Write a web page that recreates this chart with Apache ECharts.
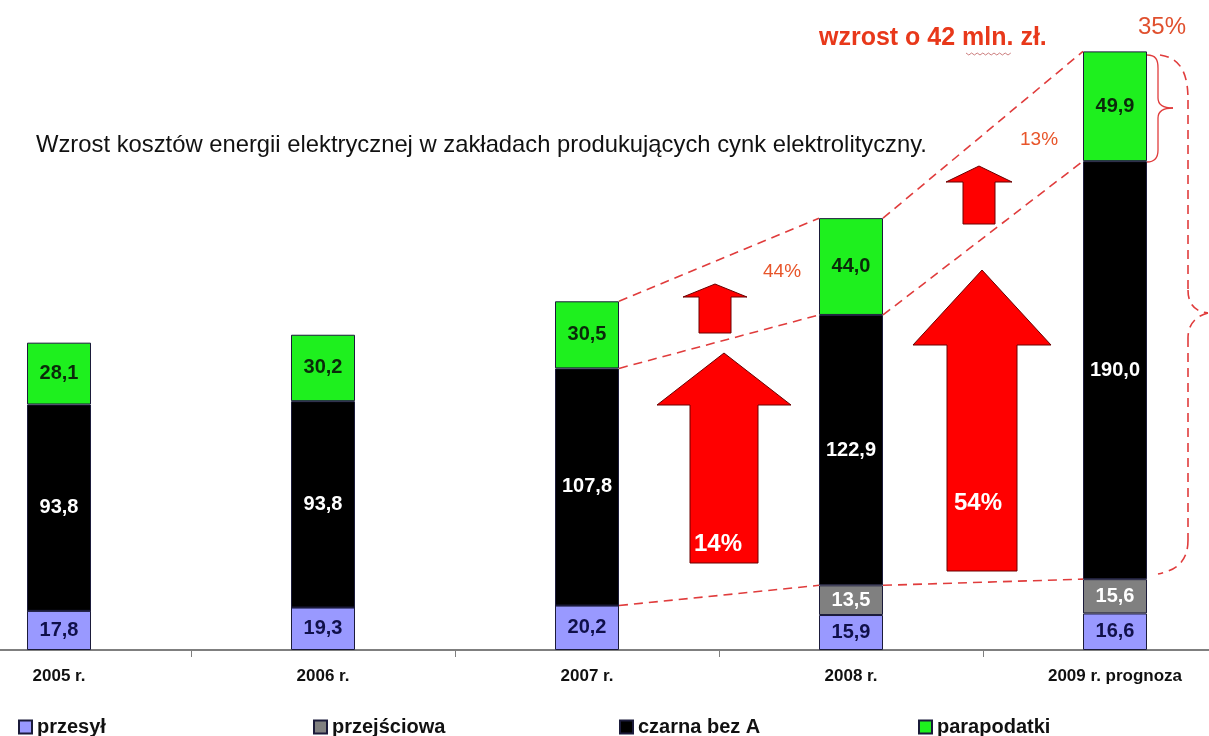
<!DOCTYPE html>
<html>
<head>
<meta charset="utf-8">
<script src="https://cdn.jsdelivr.net/npm/echarts@6/dist/echarts.min.js"></script>
<style>
  html, body { margin: 0; padding: 0; background: #fff; }
  #chart { width: 1209px; height: 736px; }
</style>
</head>
<body>
<div id="chart"></div>
<script>
const categories = ["2005 r.", "2006 r.", "2007 r.", "2008 r.", "2009 r. prognoza"];
const przesyl = [17.8, 19.3, 20.2, 15.9, 16.6];
const przejsciowa = [0, 0, 0, 13.5, 15.6];
const czarna = [93.8, 93.8, 107.8, 122.9, 190.0];
const parapodatki = [28.1, 30.2, 30.5, 44.0, 49.9];

const FONT = "'Liberation Sans', Arial, sans-serif";
const RED = "#e8381a";
const DASH = "#e03c3c";
const BAR_W = 64;

function fmt(p) {
  if (!p.value) return "";
  return Number(p.value).toFixed(1).replace(".", ",");
}

function barSeries(name, data, color, labelColor) {
  return {
    name: name,
    type: "bar",
    stack: "total",
    barWidth: BAR_W,
    data: data,
    itemStyle: { color: color, borderColor: "#1b1b3a", borderWidth: 1 },
    label: {
      show: true,
      position: "inside",
      formatter: fmt,
      color: labelColor,
      fontFamily: FONT,
      fontWeight: "bold",
      fontSize: 20
    }
  };
}

function legendAt(name, left) {
  return {
    data: [name],
    left: left,
    top: 712,
    icon: "rect",
    itemWidth: 13,
    itemHeight: 13,
    itemGap: 6,
    textStyle: { fontFamily: FONT, fontWeight: "bold", fontSize: 20, color: "#111" }
  };
}

const chart = echarts.init(document.getElementById("chart"));

const option = {
  animation: false,
  backgroundColor: "#fff",
  legend: [
    legendAt("przesył", 13),
    legendAt("przejściowa", 308),
    legendAt("czarna bez A", 614),
    legendAt("parapodatki", 913)
  ],
  grid: {
    left: -73,
    right: -38,
    top: 34,
    bottom: 86,
    outerBoundsMode: "none"
  },
  xAxis: {
    type: "category",
    data: categories,
    axisLine: { lineStyle: { color: "#7f7f7f", width: 2 } },
    axisTick: { show: true, length: 7, lineStyle: { color: "#7f7f7f" } },
    axisLabel: {
      margin: 18,
      fontFamily: FONT,
      fontWeight: "bold",
      fontSize: 17,
      color: "#111"
    }
  },
  yAxis: {
    type: "value",
    min: 0,
    max: 280,
    show: false
  },
  series: [
    barSeries("przesył", przesyl, "#9999ff", "#10104a"),
    barSeries("przejściowa", przejsciowa, "#808080", "#ffffff"),
    barSeries("czarna bez A", czarna, "#000000", "#ffffff"),
    barSeries("parapodatki", parapodatki, "#1ef01e", "#0a2a0a")
  ]
};

chart.setOption(option);

// stack tops for the dashed connectors
function tops(i) {
  const t1 = przesyl[i];
  const t2 = t1 + przejsciowa[i];
  const t3 = t2 + czarna[i];
  const t4 = t3 + parapodatki[i];
  return [t1, t2, t3, t4];
}
function px(i, v) {
  return chart.convertToPixel({ gridIndex: 0 }, [i, v]);
}
function connector(i, j, level) {
  const a = px(i, tops(i)[level]);
  const b = px(j, tops(j)[level]);
  return {
    type: "line",
    shape: { x1: a[0] + BAR_W / 2, y1: a[1], x2: b[0] - BAR_W / 2, y2: b[1] },
    style: { stroke: DASH, lineWidth: 1.6, lineDash: [9, 6] },
    z: 5
  };
}

function arrow(cx, tip, headY, headHalf, shaftHalf, bottom) {
  return {
    type: "polygon",
    shape: {
      points: [
        [cx, tip], [cx + headHalf, headY], [cx + shaftHalf, headY],
        [cx + shaftHalf, bottom], [cx - shaftHalf, bottom],
        [cx - shaftHalf, headY], [cx - headHalf, headY]
      ]
    },
    style: { fill: "#ff0000", stroke: "#6a0000", lineWidth: 1 },
    z: 4
  };
}

// brace drawn from lines (4 numbers) and cubic curves (8 numbers)
function brace(parts, style) {
  return parts.map(function (p) {
    if (p.length === 4) {
      return { type: "line", shape: { x1: p[0], y1: p[1], x2: p[2], y2: p[3] }, style: style, z: 5 };
    }
    return {
      type: "bezierCurve",
      shape: { x1: p[0], y1: p[1], cpx1: p[2], cpy1: p[3], cpx2: p[4], cpy2: p[5], x2: p[6], y2: p[7] },
      style: style,
      z: 5
    };
  });
}

function txt(x, y, text, font, fill, align) {
  return {
    type: "text",
    x: x,
    y: y,
    style: { text: text, font: font, fill: fill, align: align || "left", verticalAlign: "middle" },
    z: 10
  };
}

const squiggle = [];
for (let k = 0; k <= 16; k++) squiggle.push([966 + k * 2.8, 53 + (k % 2 ? 2 : 0)]);

const smallBrace = brace([
  [1147, 55, 1156, 55, 1158, 60, 1158, 68],
  [1158, 68, 1158, 98],
  [1158, 98, 1158, 104, 1162, 108, 1173, 108],
  [1173, 108, 1162, 108, 1158, 112, 1158, 118],
  [1158, 118, 1158, 150],
  [1158, 150, 1158, 158, 1155, 162, 1147, 162]
], { stroke: DASH, lineWidth: 1.3, fill: "none" });

const bigBrace = brace([
  [1160, 55, 1180, 58, 1188, 72, 1188, 100],
  [1188, 100, 1188, 290],
  [1188, 290, 1188, 305, 1196, 312, 1208, 313],
  [1208, 313, 1196, 316, 1188, 324, 1188, 338],
  [1188, 338, 1188, 540],
  [1188, 540, 1188, 560, 1178, 570, 1158, 574]
], { stroke: DASH, lineWidth: 1.6, lineDash: [9, 6], fill: "none" });

const graphics = [
  connector(2, 3, 3),
  connector(3, 4, 3),
  connector(2, 3, 2),
  connector(3, 4, 2),
  connector(2, 3, 1),
  connector(3, 4, 1),
  arrow(724, 353, 405, 67, 34, 563),
  arrow(715, 284, 297, 32, 16, 333),
  arrow(982, 270, 345, 69, 35, 571),
  arrow(979, 166, 182, 33, 16, 224)
].concat(smallBrace, bigBrace, [
  {
    type: "polyline",
    shape: { points: squiggle },
    style: { stroke: "#c06060", lineWidth: 0.8, fill: "none" },
    z: 10
  },
  txt(36, 145, "Wzrost kosztów energii elektrycznej w zakładach produkujących cynk elektrolityczny.", "23.8px " + FONT, "#111"),
  txt(819, 38, "wzrost o 42 mln. zł.", "bold 25px " + FONT, RED),
  txt(1138, 27, "35%", "24px " + FONT, "#e0502e"),
  txt(1020, 140, "13%", "19px " + FONT, "#e8552a"),
  txt(763, 272, "44%", "19px " + FONT, "#e8552a"),
  txt(718, 544, "14%", "bold 24px " + FONT, "#ffffff", "center"),
  txt(978, 503, "54%", "bold 24px " + FONT, "#ffffff", "center")
]);

chart.setOption({ graphic: graphics });
</script>
</body>
</html>
